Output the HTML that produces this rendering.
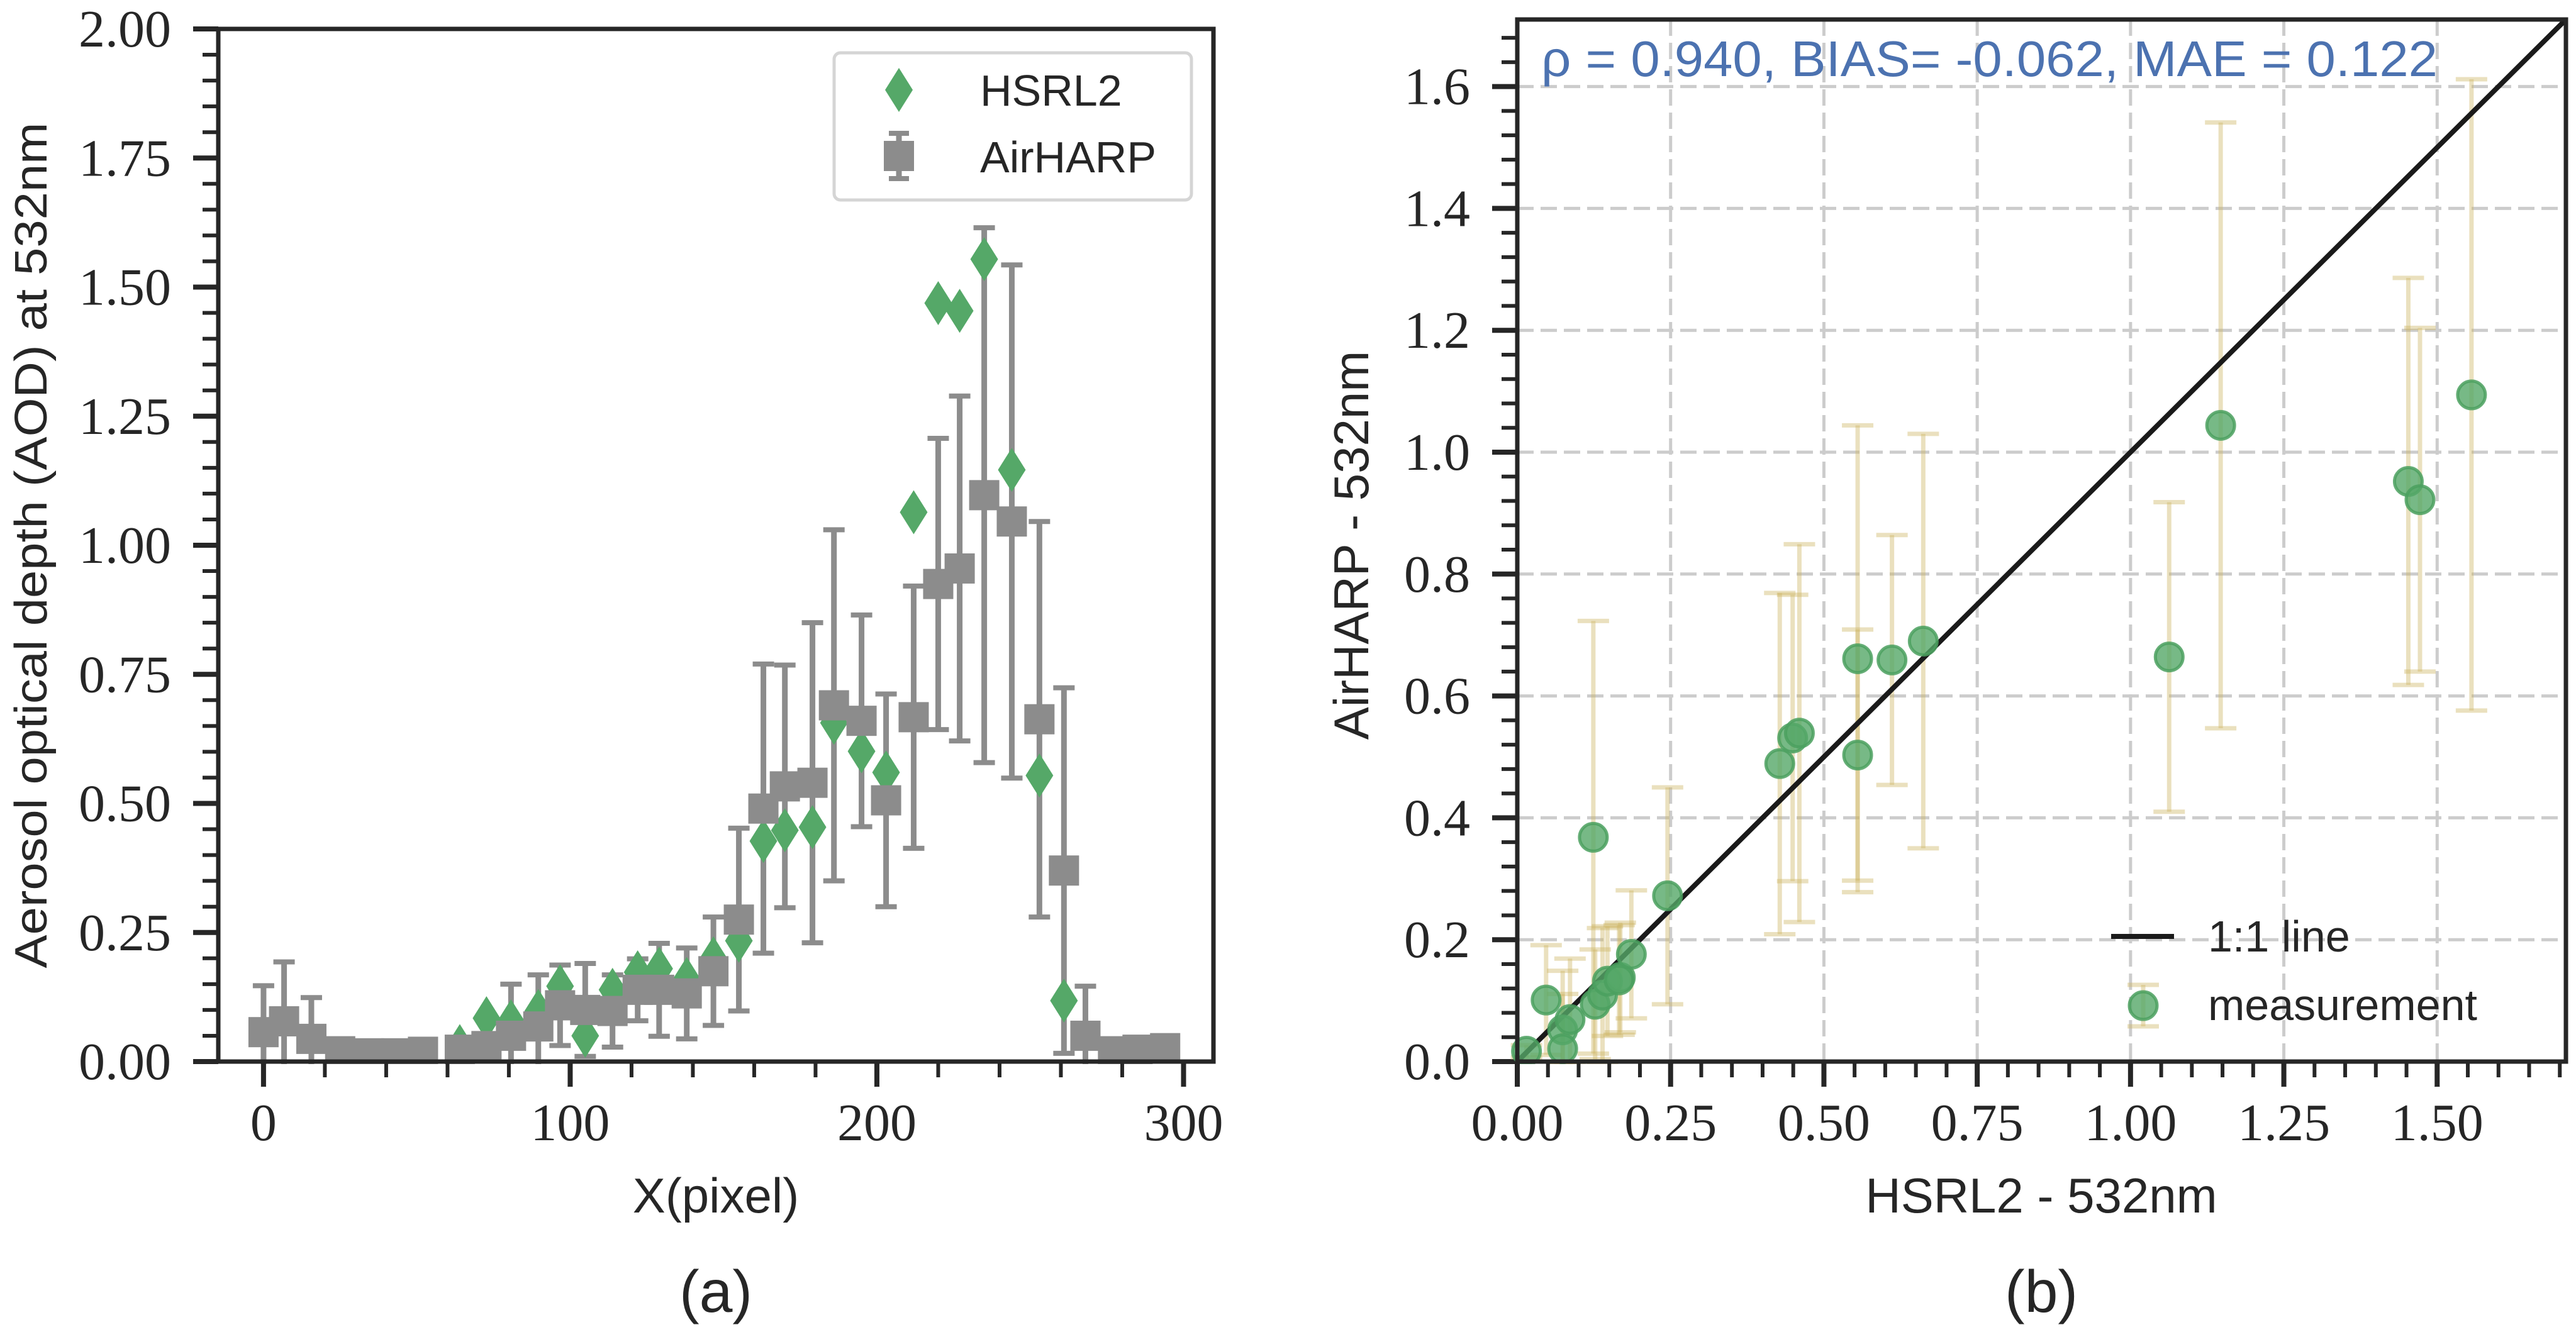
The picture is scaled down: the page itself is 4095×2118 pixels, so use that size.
<!DOCTYPE html>
<html><head><meta charset="utf-8">
<style>
html,body{margin:0;padding:0;background:#fff;}
svg{display:block;}
.tick{font-family:"Liberation Serif",serif;font-size:84px;fill:#262626;}
.lab{font-family:"Liberation Sans",sans-serif;fill:#262626;}
</style></head>
<body>
<svg id="fig" width="4095" height="2118" viewBox="0 0 4095 2118" xmlns="http://www.w3.org/2000/svg">
<rect width="4095" height="2118" fill="#fff"/>
<g id="pa"></g>
<g id="pb"></g>
</svg>
<script>
// ---- Panel (a) data ----
const airX   = [0,6.7,15.6,25,34.4,43.3,52,64,72.7,80.7,89.6,96.7,104.9,113.8,122,129,138,146.7,155,163,170,179,186,195,203,212,220,227,235,244,253,261,268,277,285,294];
const airY   = [0.057,0.078,0.044,0.02,0.016,0.016,0.019,0.023,0.03,0.05,0.068,0.109,0.1,0.098,0.139,0.139,0.132,0.175,0.275,0.49,0.533,0.54,0.69,0.66,0.506,0.667,0.925,0.955,1.097,1.046,0.663,0.37,0.05,0.02,0.023,0.026];
const airErr = [0.09,0.115,0.08,0.005,0.004,0.004,0.004,0.005,0.006,0.1,0.1,0.078,0.09,0.07,0.06,0.09,0.088,0.105,0.177,0.28,0.235,0.31,0.34,0.205,0.206,0.254,0.282,0.334,0.518,0.497,0.383,0.354,0.096,0.004,0.004,0.004];
const hsrlX  = [64,72.7,80.7,89.6,96.7,104.9,113.8,122,129,138,146.7,155,163,170,179,186,195,203,212,220,227,235,244,253,261];
const hsrlY  = [0.03,0.084,0.078,0.098,0.146,0.05,0.139,0.173,0.18,0.16,0.2,0.234,0.427,0.448,0.454,0.656,0.601,0.56,1.064,1.469,1.454,1.554,1.146,0.554,0.118];
const aXTicks = [0,100,200,300];
const aYTicks = ["0.00","0.25","0.50","0.75","1.00","1.25","1.50","1.75","2.00"];
// ---- Panel (b) data ----
const scX   = [0.015,0.047,0.074,0.086,0.074,0.124,0.127,0.139,0.147,0.168,0.166,0.186,0.245,0.428,0.449,0.46,0.555,0.555,0.611,0.662,1.063,1.147,1.453,1.472,1.556];
const scY   = [0.017,0.101,0.052,0.069,0.021,0.368,0.094,0.109,0.132,0.138,0.134,0.176,0.272,0.489,0.531,0.539,0.661,0.503,0.659,0.69,0.664,1.044,0.952,0.922,1.094];
const scErr = [0.01,0.09,0.097,0.1,0.09,0.355,0.09,0.11,0.09,0.09,0.09,0.105,0.178,0.28,0.235,0.31,0.383,0.206,0.205,0.34,0.254,0.497,0.334,0.282,0.518];
const bXTicks = ["0.00","0.25","0.50","0.75","1.00","1.25","1.50"];
const bYTicks = ["0.0","0.2","0.4","0.6","0.8","1.0","1.2","1.4","1.6"];

const NS="http://www.w3.org/2000/svg";
function mk(parent,tag,attrs,text){const e=document.createElementNS(NS,tag);for(const k in attrs)e.setAttribute(k,attrs[k]);if(text!==undefined)e.textContent=text;parent.appendChild(e);return e;}
const INK="#262626";

// ===== Panel A =====
(function(){
const g=document.getElementById('pa');
const L=347,R=1929,T=46,B=1688, x0=-14.75,x1=309.75,y0=0,y1=2.0;
const sx=v=>L+(v-x0)/(x1-x0)*(R-L), sy=v=>B-(v-y0)/(y1-y0)*(B-T);
for(let v=0;v<=300;v+=20){const maj=v%100===0;const t=mk(g,'line',{x1:sx(v),x2:sx(v),y1:B,y2:B+(maj?40:25),stroke:INK,'stroke-width':maj?8:6});
}
for(let i=0;i<=40;i++){const v=i*0.05;const maj=i%5===0;const t=mk(g,'line',{x1:L,x2:L-(maj?40:25),y1:sy(v),y2:sy(v),stroke:INK,'stroke-width':maj?8:6});
}
aXTicks.forEach(v=>{const t=mk(g,'text',{x:sx(v),y:1813,'text-anchor':'middle',class:'tick'},String(v));
});
aYTicks.forEach(s=>{const t=mk(g,'text',{x:272,y:sy(parseFloat(s))+28,'text-anchor':'end',class:'tick'},s);
});
const eg=mk(g,'g',{});

airX.forEach((x,i)=>{const cx=sx(x),top=sy(Math.min(airY[i]+airErr[i],2)),bot=sy(Math.max(airY[i]-airErr[i],-0.01));
mk(eg,'line',{x1:cx,x2:cx,y1:top,y2:bot,stroke:'#8c8c8c','stroke-width':9});
mk(eg,'line',{x1:cx-17,x2:cx+17,y1:top,y2:top,stroke:'#8c8c8c','stroke-width':8});
if(airY[i]-airErr[i]>0)mk(eg,'line',{x1:cx-17,x2:cx+17,y1:bot,y2:bot,stroke:'#8c8c8c','stroke-width':8});});
hsrlX.forEach((x,i)=>{const cx=sx(x),cy=sy(hsrlY[i]);
const d=mk(g,'polygon',{points:`${cx},${cy-35} ${cx+22},${cy} ${cx},${cy+35} ${cx-22},${cy}`,fill:'#55a868'});
});
airX.forEach((x,i)=>{const cx=sx(x),cy=sy(airY[i]);
const s=mk(g,'rect',{x:cx-24,y:cy-24,width:48,height:48,fill:'#8c8c8c'});
});
mk(g,'rect',{x:L,y:B+4,width:R-L,height:35,fill:'#fff'});
for(let v=0;v<=300;v+=20){const maj=v%100===0;mk(g,'line',{x1:sx(v),x2:sx(v),y1:B,y2:B+(maj?40:25),stroke:INK,'stroke-width':maj?8:6});}
const f=mk(g,'rect',{x:L,y:T,width:R-L,height:B-T,fill:'none',stroke:INK,'stroke-width':7});

const lg=mk(g,'g',{});
mk(lg,'rect',{x:1326,y:84,width:568,height:234,rx:10,fill:'#fff',stroke:'#d5d5d5','stroke-width':5});
mk(lg,'polygon',{points:'1429,108 1451,143 1429,178 1407,143',fill:'#55a868'});
mk(lg,'line',{x1:1429,x2:1429,y1:212,y2:284,stroke:'#8c8c8c','stroke-width':9});
mk(lg,'line',{x1:1413,x2:1445,y1:212,y2:212,stroke:'#8c8c8c','stroke-width':8});
mk(lg,'line',{x1:1413,x2:1445,y1:284,y2:284,stroke:'#8c8c8c','stroke-width':8});
mk(lg,'rect',{x:1405,y:224,width:48,height:48,fill:'#8c8c8c'});
const t1=mk(lg,'text',{x:1558,y:168,class:'lab','font-size':70},'HSRL2');
const t2=mk(lg,'text',{x:1558,y:274,class:'lab','font-size':70},'AirHARP');
const xl=mk(g,'text',{x:1138,y:1928,'text-anchor':'middle',class:'lab','font-size':78},'X(pixel)');
const yl=mk(g,'text',{x:0,y:0,'text-anchor':'middle',class:'lab','font-size':72,transform:'translate(74,867) rotate(-90)',textLength:1345,lengthAdjust:'spacingAndGlyphs'},'Aerosol optical depth (AOD) at 532nm');
const pl=mk(g,'text',{x:1138,y:2086,'text-anchor':'middle',class:'lab','font-size':95},'(a)');
})();

// ===== Panel B =====
(function(){
const g=document.getElementById('pb');
const L=2412,R=4079,T=31,B=1688, lim=1.71;
const sx=v=>L+v/lim*(R-L), sy=v=>B-v/lim*(B-T);
for(let v=0.25;v<1.7;v+=0.25){const l=mk(g,'line',{x1:sx(v),x2:sx(v),y1:T,y2:B,stroke:'#cccccc','stroke-width':5,'stroke-dasharray':'26 11'});
}
for(let i=1;i<=8;i++){const v=i*0.2;const l=mk(g,'line',{x1:L,x2:R,y1:sy(v),y2:sy(v),stroke:'#cccccc','stroke-width':5,'stroke-dasharray':'26 11'});
}
for(let i=0;i<=34;i++){const v=i*0.05;const maj=i%5===0;const t=mk(g,'line',{x1:sx(v),x2:sx(v),y1:B,y2:B+(maj?40:25),stroke:INK,'stroke-width':maj?8:6});
}
for(let i=0;i<=42;i++){const v=i*0.04;const maj=i%5===0;const t=mk(g,'line',{x1:L,x2:L-(maj?40:25),y1:sy(v),y2:sy(v),stroke:INK,'stroke-width':maj?8:6});
}
bXTicks.forEach(s=>{const t=mk(g,'text',{x:sx(parseFloat(s)),y:1813,'text-anchor':'middle',class:'tick'},s);
});
bYTicks.forEach(s=>{const t=mk(g,'text',{x:2337,y:sy(parseFloat(s))+28,'text-anchor':'end',class:'tick'},s);
});
const eg=mk(g,'g',{});
const ec='rgba(204,180,100,0.42)';
scX.forEach((x,i)=>{const cx=sx(x),top=sy(scY[i]+scErr[i]),bot=sy(Math.max(scY[i]-scErr[i],-0.005));
mk(eg,'line',{x1:cx,x2:cx,y1:top,y2:bot,stroke:ec,'stroke-width':7});
mk(eg,'line',{x1:cx-25,x2:cx+25,y1:top,y2:top,stroke:ec,'stroke-width':7});
mk(eg,'line',{x1:cx-25,x2:cx+25,y1:bot,y2:bot,stroke:ec,'stroke-width':7});});
const ol=mk(g,'line',{x1:sx(0),y1:sy(0),x2:sx(lim),y2:sy(lim),stroke:'#1a1a1a','stroke-width':8});

scX.forEach((x,i)=>{const c=mk(g,'circle',{cx:sx(x),cy:sy(scY[i]),r:22,fill:'rgba(85,168,104,0.8)',stroke:'rgba(75,160,95,0.85)','stroke-width':5});
});
mk(g,'rect',{x:L,y:B+4,width:R-L+10,height:35,fill:'#fff'});
for(let i=0;i<=34;i++){const v=i*0.05;const maj=i%5===0;mk(g,'line',{x1:sx(v),x2:sx(v),y1:B,y2:B+(maj?40:25),stroke:INK,'stroke-width':maj?8:6});}
const f=mk(g,'rect',{x:L,y:T,width:R-L,height:B-T,fill:'none',stroke:INK,'stroke-width':7});

const st=mk(g,'text',{x:2450,y:121,class:'lab','font-size':80,fill:'#4c72b0',style:'fill:#4c72b0',textLength:1425,lengthAdjust:'spacingAndGlyphs'},'ρ = 0.940, BIAS= -0.062, MAE = 0.122');

const lg=mk(g,'g',{});
mk(lg,'line',{x1:3356,x2:3456,y1:1489,y2:1489,stroke:'#1a1a1a','stroke-width':8});
const l1=mk(lg,'text',{x:3510,y:1513,class:'lab','font-size':70},'1:1 line');
mk(lg,'line',{x1:3407,x2:3407,y1:1566,y2:1632,stroke:ec,'stroke-width':7});
mk(lg,'line',{x1:3382,x2:3432,y1:1566,y2:1566,stroke:ec,'stroke-width':7});
mk(lg,'line',{x1:3382,x2:3432,y1:1632,y2:1632,stroke:ec,'stroke-width':7});
mk(lg,'circle',{cx:3407,cy:1599,r:22,fill:'rgba(85,168,104,0.8)',stroke:'rgba(75,160,95,0.85)','stroke-width':5});
const l2=mk(lg,'text',{x:3510,y:1622,class:'lab','font-size':70},'measurement');
const xl=mk(g,'text',{x:3245,y:1928,'text-anchor':'middle',class:'lab','font-size':78},'HSRL2 - 532nm');
const yl=mk(g,'text',{x:0,y:0,'text-anchor':'middle',class:'lab','font-size':78,transform:'translate(2175,867) rotate(-90)'},'AirHARP - 532nm');
const pl=mk(g,'text',{x:3245,y:2086,'text-anchor':'middle',class:'lab','font-size':95},'(b)');
})();
</script>
</body></html>
